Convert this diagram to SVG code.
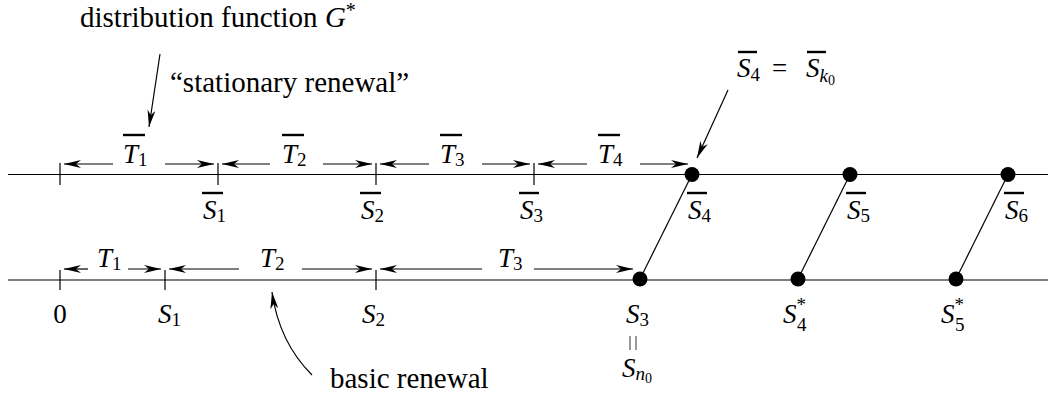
<svg xmlns="http://www.w3.org/2000/svg" width="1055" height="396" viewBox="0 0 1055 396">
<style>
.m{font-family:"Liberation Serif","DejaVu Serif",serif;font-style:italic;font-size:27px;fill:#000}
.r{font-family:"Liberation Serif","DejaVu Serif",serif;font-size:27px;fill:#000}
.w{font-family:"Liberation Serif","DejaVu Serif",serif;font-size:29px;fill:#000}
.sub{font-style:normal;font-size:19px}
.ssub{font-style:normal;font-size:14px}
.ov{stroke:#000;stroke-width:2.4}
.axis{stroke:#000;stroke-width:1.2;fill:none}
.tick{stroke:#000;stroke-width:1.2}
.dim{stroke:#000;stroke-width:1.2;fill:none;marker-end:url(#ah)}
.ptr{stroke:#000;stroke-width:1.2;fill:none;marker-end:url(#ah)}
.link{stroke:#000;stroke-width:1.2}
</style>
<defs>
<marker id="ah" markerUnits="userSpaceOnUse" markerWidth="18" markerHeight="10" refX="17" refY="4" orient="auto">
<path d="M0,0 L17,4 L0,8 L5,4 Z" fill="#000"/>
</marker>
</defs>
<rect width="1055" height="396" fill="#fff"/>

<g id="axes">
<line class="axis" x1="8" y1="174.5" x2="1048" y2="174.5"/>
<line class="axis" x1="8" y1="280" x2="1048" y2="280"/>
</g>

<g id="connectors">
<path class="dim" d="M113,164 L64,164"/>
<path class="dim" d="M165,164 L214,164"/>
<path class="dim" d="M270,164 L222,164"/>
<path class="dim" d="M323,164 L372,164"/>
<path class="dim" d="M429,164 L380,164"/>
<path class="dim" d="M482,164 L530,164"/>
<path class="dim" d="M587,164 L538,164"/>
<path class="dim" d="M640,164 L688,164"/>
<path class="dim" d="M88,269 L64,269"/>
<path class="dim" d="M128,269 L161,269"/>
<path class="dim" d="M239,269 L169,269"/>
<path class="dim" d="M302,269 L372,269"/>
<path class="dim" d="M482,269 L380,269"/>
<path class="dim" d="M534,269 L633,269"/>
<line class="link" x1="640" y1="279" x2="692" y2="174.5"/>
<line class="link" x1="798" y1="279" x2="850" y2="174.5"/>
<line class="link" x1="956" y1="279" x2="1008" y2="174.5"/>
<path class="ptr" d="M160,54 L149,127"/>
<path class="ptr" d="M728,90 L697,158"/>
<path class="ptr" d="M312,375 Q279,342 272,292"/>
</g>

<g id="ticks">
<line class="tick" x1="60" y1="163" x2="60" y2="185"/>
<line class="tick" x1="218" y1="163" x2="218" y2="185"/>
<line class="tick" x1="376" y1="163" x2="376" y2="185"/>
<line class="tick" x1="534" y1="163" x2="534" y2="185"/>
<line class="tick" x1="60" y1="270" x2="60" y2="290"/>
<line class="tick" x1="165" y1="270" x2="165" y2="290"/>
<line class="tick" x1="376" y1="270" x2="376" y2="290"/>
</g>

<g id="dots">
<circle cx="692" cy="174.5" r="7.5"/>
<circle cx="850" cy="174.5" r="7.5"/>
<circle cx="1008" cy="174.5" r="7.5"/>
<circle cx="640" cy="279" r="7.5"/>
<circle cx="798" cy="279" r="7.5"/>
<circle cx="956" cy="279" r="7.5"/>
</g>

<g id="label-G">
<text class="w" x="80" y="27">distribution function <tspan font-style="italic">G</tspan><tspan font-size="20" dy="-10">*</tspan></text>
</g>
<g id="label-stationary">
<text class="w" x="170" y="92">“stationary renewal”</text>
</g>
<g id="label-basic">
<text class="w" x="330" y="388">basic renewal</text>
</g>
<g id="label-Sk0">
<text class="m" x="737" y="77">S<tspan class="sub" dy="4">4</tspan></text>
<text class="r" x="772" y="77" font-size="30">=</text>
<text class="m" x="806" y="77">S<tspan font-size="19" dy="5">k</tspan><tspan class="ssub" dy="3">0</tspan></text>
<line class="ov" x1="738" y1="52" x2="757" y2="52"/>
<line class="ov" x1="807" y1="52" x2="826" y2="52"/>
</g>

<g id="top-labels">
<g id="Tb1"><text class="m" x="123" y="163">T<tspan class="sub" dy="3">1</tspan></text><line class="ov" x1="123" y1="135" x2="145" y2="135"/></g>
<g id="Tb2"><text class="m" x="282" y="163">T<tspan class="sub" dy="3">2</tspan></text><line class="ov" x1="282" y1="135" x2="304" y2="135"/></g>
<g id="Tb3"><text class="m" x="440" y="163">T<tspan class="sub" dy="3">3</tspan></text><line class="ov" x1="440" y1="135" x2="462" y2="135"/></g>
<g id="Tb4"><text class="m" x="598" y="163">T<tspan class="sub" dy="3">4</tspan></text><line class="ov" x1="598" y1="135" x2="620" y2="135"/></g>
<g id="Sb1"><text class="m" x="203" y="219">S<tspan class="sub" dy="3">1</tspan></text><line class="ov" x1="202" y1="193" x2="223" y2="193"/></g>
<g id="Sb2"><text class="m" x="361" y="219">S<tspan class="sub" dy="3">2</tspan></text><line class="ov" x1="360" y1="193" x2="381" y2="193"/></g>
<g id="Sb3"><text class="m" x="520" y="219">S<tspan class="sub" dy="3">3</tspan></text><line class="ov" x1="519" y1="193" x2="539" y2="193"/></g>
<g id="Sb4"><text class="m" x="688" y="219">S<tspan class="sub" dy="3">4</tspan></text><line class="ov" x1="687" y1="193" x2="707" y2="193"/></g>
<g id="Sb5"><text class="m" x="847" y="219">S<tspan class="sub" dy="3">5</tspan></text><line class="ov" x1="846" y1="193" x2="866" y2="193"/></g>
<g id="Sb6"><text class="m" x="1005" y="219">S<tspan class="sub" dy="3">6</tspan></text><line class="ov" x1="1004" y1="193" x2="1024" y2="193"/></g>
</g>

<g id="bottom-labels">
<g id="T1"><text class="m" x="97" y="267">T<tspan class="sub" dy="3">1</tspan></text></g>
<g id="T2"><text class="m" x="260" y="267">T<tspan class="sub" dy="3">2</tspan></text></g>
<g id="T3"><text class="m" x="498" y="267">T<tspan class="sub" dy="3">3</tspan></text></g>
<g id="zero"><text class="r" x="60" y="323" text-anchor="middle">0</text></g>
<g id="S1"><text class="m" x="158" y="323">S<tspan class="sub" dy="3">1</tspan></text></g>
<g id="S2"><text class="m" x="362" y="323">S<tspan class="sub" dy="3">2</tspan></text></g>
<g id="S3"><text class="m" x="626" y="323">S<tspan class="sub" dy="3">3</tspan></text>
<line x1="630" y1="336" x2="630" y2="350" stroke="#555" stroke-width="1.2"/>
<line x1="636" y1="336" x2="636" y2="350" stroke="#555" stroke-width="1.2"/>
<text class="m" x="622" y="377">S<tspan font-size="19" dy="3">n</tspan><tspan class="ssub" dy="3">0</tspan></text></g>
<g id="S4s"><text class="m" x="783" y="323">S<tspan class="sub" dy="-12">*</tspan><tspan class="sub" dx="-9" dy="20">4</tspan></text></g>
<g id="S5s"><text class="m" x="941" y="323">S<tspan class="sub" dy="-12">*</tspan><tspan class="sub" dx="-9" dy="20">5</tspan></text></g>
</g>
</svg>
